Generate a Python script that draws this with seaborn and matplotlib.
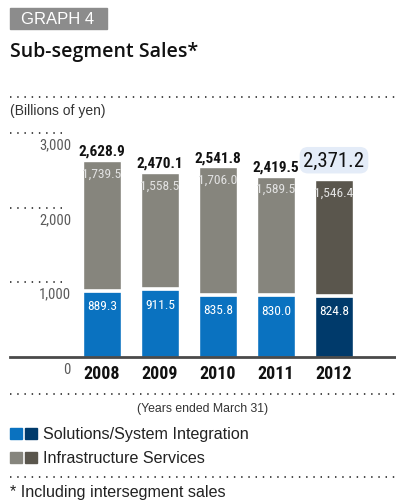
import matplotlib
matplotlib.use("Agg")
import matplotlib.pyplot as plt
from matplotlib.patches import Rectangle
import seaborn as sns
import pandas as pd

years = ["2008", "2009", "2010", "2011", "2012"]
solutions = [889.3, 911.5, 835.8, 830.0, 824.8]
infra = [1739.5, 1558.5, 1706.0, 1589.5, 1546.4]
totals = [2628.9, 2470.1, 2541.8, 2419.5, 2371.2]
yticks = [1000, 2000, 3000]

sns.set_theme(style="white")
plt.rcParams["font.family"] = ["Liberation Sans", "DejaVu Sans"]
NUM = ["Roboto Condensed", "Liberation Sans Narrow", "Liberation Sans", "DejaVu Sans"]

W, H = 396, 502
fig = plt.figure(figsize=(W / 100, H / 100), dpi=100)

def fx(x):
    return x / W

def fy(y):
    return 1 - y / H

blue = "#0a72c0"
blue_dk = "#003a6b"
grey = "#86857d"
grey_dk = "#5a564d"
dotc = "#3a3a3a"

# axes: left px 10 -> right px 396, baseline px 358, top px 100
ax = fig.add_axes([fx(10), fy(358), fx(386), (358 - 100) / H])
df = pd.DataFrame({"year": years, "sol": solutions, "inf": infra})
df["stack"] = df["sol"] + df["inf"]

grey_pal = {y: (grey_dk if y == "2012" else grey) for y in years}
blue_pal = {y: (blue_dk if y == "2012" else blue) for y in years}
sns.barplot(data=df, x="year", y="stack", hue="year", palette=grey_pal,
            legend=False, width=0.655, saturation=1, ax=ax)
sns.barplot(data=df, x="year", y="sol", hue="year", palette=blue_pal,
            legend=False, width=0.655, saturation=1, ax=ax)
xs = list(range(len(years)))
ax.hlines(solutions, [x - 0.33 for x in xs], [x + 0.33 for x in xs],
          color="white", lw=2.6, zorder=5)

ax.set_xlim((10 - 102) / 58, (396 - 102) / 58)
ax.set_ylim(0, 258 / (196 / 2628.9))
ax.set_xlabel("")
ax.set_ylabel("")
ax.set_yticks([])
for s in ["top", "right", "left"]:
    ax.spines[s].set_visible(False)
ax.spines["bottom"].set_color("#4a4a4a")
ax.spines["bottom"].set_linewidth(2)
ax.tick_params(axis="x", length=0, pad=5)
ax.set_xticks(xs)
ax.set_xticklabels(years, fontsize=13, fontweight="bold", color="#111111",
                   family=NUM)

# dotted y grid stubs and labels
yt = ax.get_yaxis_transform()
ax.hlines(yticks, 0, 52 / 386, transform=yt, color=dotc, lw=1.3,
          linestyles=(0, (0.8, 3.2)), clip_on=False)
for v in yticks:
    ax.annotate(f"{v:,}", (61 / 386, v), xycoords=yt, xytext=(0, -11),
                textcoords="offset pixels", ha="right", va="center",
                fontsize=10.5, color="#5a5a5a", family=NUM)
ax.annotate("0", (61 / 386, 0), xycoords=yt, xytext=(0, -12),
            textcoords="offset pixels", ha="right", va="center",
            fontsize=10.5, color="#5a5a5a", family=NUM)

# value labels
for i in xs:
    top = solutions[i] + infra[i]
    ax.annotate(f"{infra[i]:,.1f}", (i, top), xytext=(0, -12),
                textcoords="offset pixels", ha="center", va="center",
                fontsize=9.7, color="#e2e2e2", family=NUM)
    ax.annotate(f"{solutions[i]:,.1f}", (i, solutions[i]), xytext=(0, -15),
                textcoords="offset pixels", ha="center", va="center",
                fontsize=9.7, color="white", family=NUM)
    if i < len(xs) - 1:
        ax.annotate(f"{totals[i]:,.1f}", (i, top), xytext=(0, 10),
                    textcoords="offset pixels", ha="center", va="center",
                    fontsize=11, fontweight="bold", color="#111111",
                    family=NUM)
    else:
        ax.annotate(f"{totals[i]:,.1f}", (i, top), xytext=(0, 20),
                    textcoords="offset pixels", ha="center", va="center",
                    fontsize=15, color="#111111", family=NUM,
                    bbox=dict(boxstyle="round,pad=0.18,rounding_size=0.4",
                              fc="#e4ecf8", ec="none"))

# header
fig.patches.append(Rectangle((fx(10), fy(30)), fx(97), 21 / H,
                             transform=fig.transFigure, color="#8c8c8c"))
fig.text(fx(58), fy(19.5), "GRAPH 4", ha="center", va="center",
         fontsize=12, color="white")
fig.text(fx(10), fy(52), "Sub-segment Sales*", ha="left", va="center",
         fontsize=14, fontweight="semibold", color="#111111",
         family=["Open Sans", "Liberation Sans"])

def dotted(y):
    fig.add_artist(plt.Line2D([fx(10), fx(396)], [fy(y), fy(y)],
                              transform=fig.transFigure, color=dotc, lw=1.3,
                              linestyle=(0, (0.8, 3.2))))

dotted(98)
fig.text(fx(10), fy(111), "(Billions of yen)", ha="left", va="center",
         fontsize=10, color="#333333")
dotted(395)
fig.text(fx(203), fy(409), "(Years ended March 31)", ha="center",
         va="center", fontsize=8.8, color="#333333")

# legend
for yy, c1, c2, lab in [(429, blue, blue_dk, "Solutions/System Integration"),
                        (453, grey, grey_dk, "Infrastructure Services")]:
    fig.patches.append(Rectangle((fx(10), fy(yy + 11)), fx(12), 11 / H,
                                 transform=fig.transFigure, color=c1))
    fig.patches.append(Rectangle((fx(25), fy(yy + 11)), fx(12), 11 / H,
                                 transform=fig.transFigure, color=c2))
    fig.text(fx(43), fy(yy + 5.5), lab, ha="left", va="center",
             fontsize=11.6, color="#222222")
dotted(478)
fig.text(fx(10), fy(493), "* Including intersegment sales", ha="left",
         va="center", fontsize=11.6, color="#222222")

fig.savefig("out.png", dpi=100)
